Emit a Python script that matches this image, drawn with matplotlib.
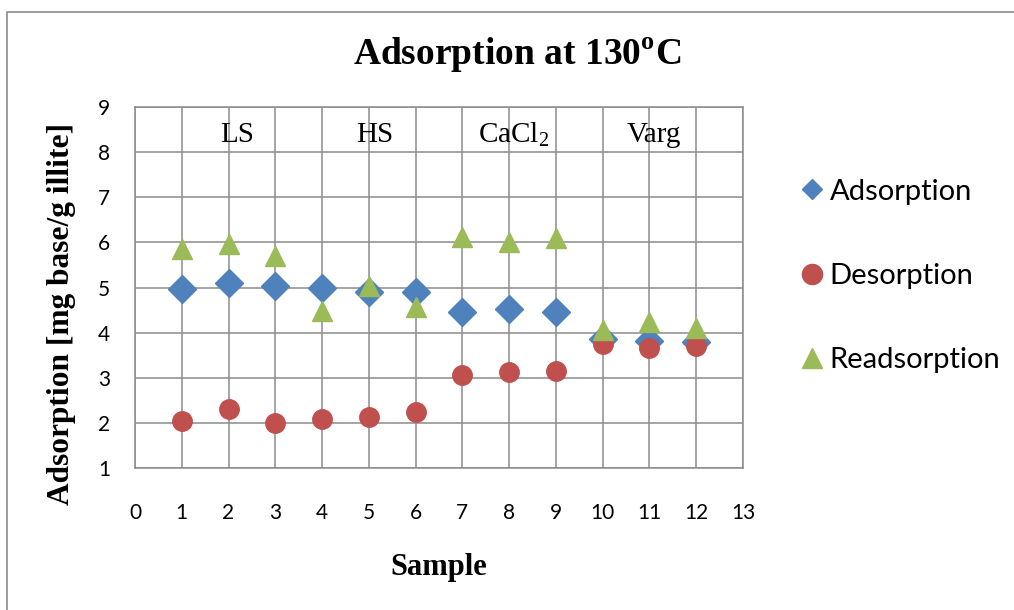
import matplotlib
matplotlib.use("Agg")
import matplotlib.pyplot as plt
from matplotlib.patches import Rectangle

samples = [1, 2, 3, 4, 5, 6, 7, 8, 9, 10, 11, 12]
adsorption = [4.96, 5.10, 5.04, 4.98, 4.90, 4.91, 4.46, 4.53, 4.46, 3.86, 3.81, 3.79]
desorption = [2.05, 2.30, 2.00, 2.08, 2.12, 2.24, 3.06, 3.12, 3.16, 3.74, 3.66, 3.71]
readsorption = [5.86, 5.97, 5.70, 4.49, 5.04, 4.57, 6.11, 6.00, 6.10, 4.06, 4.23, 4.11]
group_labels = ["LS", "HS", "CaCl$_2$", "Varg"]
group_x = [2.18, 5.13, 8.1, 11.1]
series_names = ["Adsorption", "Desorption", "Readsorption"]
x_ticks = list(range(0, 14))
y_ticks = list(range(1, 10))

plt.rcParams['mathtext.fontset'] = 'custom'
plt.rcParams['mathtext.rm'] = 'Liberation Serif'
plt.rcParams['mathtext.bf'] = 'Liberation Serif:bold'

fig = plt.figure(figsize=(10.14, 6.10), dpi=100)
fig.patches.append(Rectangle((7/1014, -0.1), 1.2, 1.1 - 12/610,
                             transform=fig.transFigure, fill=False,
                             edgecolor='#8c8c8c', linewidth=1.2))
ax = fig.add_axes([135/1014, 1 - 468/610, (743-135)/1014, (468-107)/610])

grid_c = '#8c8c8c'
ax.set_xlim(0, 13)
ax.set_ylim(1, 9)
ax.set_xticks(x_ticks)
ax.set_yticks(y_ticks)
ax.grid(True, color=grid_c, linewidth=1.1)
ax.set_axisbelow(True)
for s in ax.spines.values():
    s.set_color(grid_c)
    s.set_linewidth(1.1)
ax.tick_params(length=0, labelsize=15)
ax.tick_params(axis='x', pad=25.5)
ax.tick_params(axis='y', pad=18)
for lab in ax.get_xticklabels() + ax.get_yticklabels():
    lab.set_fontfamily('Lato')

ax.plot(samples, adsorption, linestyle='none', marker='D', ms=14,
        color='#4f81bd', label=series_names[0], clip_on=False)
ax.plot(samples, desorption, linestyle='none', marker='o', ms=14,
        color='#c0504d', label=series_names[1], clip_on=False)
ax.plot(samples, readsorption, linestyle='none', marker='^', ms=14,
        color='#9bbb59', label=series_names[2], clip_on=False)

for gx, gl in zip(group_x, group_labels):
    ax.text(gx, 8.224, gl, ha='center', va='baseline', fontsize=21,
            fontfamily='Liberation Serif')

fig.text(517/1014, 1 - 55/610, "Adsorption at 130$^{\\mathbf{o}}$C",
         ha='center', va='center', fontsize=27, fontweight='bold',
         fontfamily='Liberation Serif')
fig.text(62/1014, 1 - 313.5/610, "Adsorption [mg base/g illite]", rotation=90,
         ha='center', va='center', fontsize=22.6, fontweight='bold',
         fontfamily='Liberation Serif')
fig.text(439/1014, 1 - 567/610, "Sample", ha='center', va='center',
         fontsize=22, fontweight='bold', fontfamily='Liberation Serif')

leg = ax.legend(loc='center left', bbox_to_anchor=(802/1014, 1 - 276/610),
                bbox_transform=fig.transFigure, frameon=False,
                prop={'family': 'Lato', 'size': 21}, labelspacing=2.0,
                handletextpad=0.25, handlelength=0.7, borderpad=0,
                borderaxespad=0, markerscale=1.0)
handles = leg.legend_handles
handles[0].set_markersize(10)
handles[1].set_markersize(14.5)
handles[2].set_markersize(14.5)

fig.savefig("out.png", dpi=100)
